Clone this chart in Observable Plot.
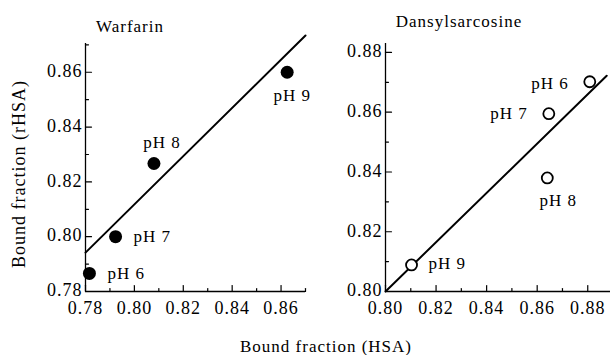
<!DOCTYPE html>
<html>
<head>
<meta charset="utf-8">
<script src="https://cdn.jsdelivr.net/npm/d3@7"></script>
<script src="https://cdn.jsdelivr.net/npm/@observablehq/plot@0.6"></script>
<style>
  html, body { margin: 0; padding: 0; background: white; }
  #chart { position: relative; width: 611px; height: 355px; overflow: hidden; background: white; }
  #chart > svg { position: absolute; top: 0; }
  #chart text { font-family: "Liberation Serif", "Times New Roman", serif; letter-spacing: 1px; }
</style>
</head>
<body>
<div id="chart"></div>
<script>
// ---- data ----
const phLabels = ["pH 6", "pH 7", "pH 8", "pH 9"];

// Warfarin panel
const warfarinHSA  = [0.7816, 0.7923, 0.8080, 0.8625];
const warfarinRHSA = [0.7866, 0.8000, 0.8267, 0.8600];
const warfarinFitX = [0.780, 0.870];
const warfarinFitY = [0.7942, 0.8734];
const warfarinXTicks = [0.78, 0.80, 0.82, 0.84, 0.86];
const warfarinXMinor = [0.79, 0.81, 0.83, 0.85, 0.87];
const warfarinYTicks = [0.78, 0.80, 0.82, 0.84, 0.86];
const warfarinYMinor = [0.79, 0.81, 0.83, 0.85, 0.87];

// Dansylsarcosine panel
const dansylHSA  = [0.8808, 0.8646, 0.8640, 0.8103];
const dansylRHSA = [0.8702, 0.8595, 0.8380, 0.8089];
const dansylFitX = [0.800, 0.8875];
const dansylFitY = [0.800, 0.8722];
const dansylXTicks = [0.80, 0.82, 0.84, 0.86, 0.88];
const dansylXMinor = [0.81, 0.83, 0.85, 0.87];
const dansylYTicks = [0.80, 0.82, 0.84, 0.86, 0.88];
const dansylYMinor = [0.81, 0.83, 0.85, 0.87];

const titles = ["Warfarin", "Dansylsarcosine"];
const xLabel = "Bound fraction (HSA)";
const yLabel = "Bound fraction (rHSA)";

// ---- styling (label placement offsets, in pixels) ----
const warfarinLabelPos = [
  {dx: 18, dy: 0, anchor: "start"},
  {dx: 18, dy: 0, anchor: "start"},
  {dx: 8, dy: -21, anchor: "middle"},
  {dx: 5, dy: 23, anchor: "middle"}
];
const dansylLabelPos = [
  {dx: -21, dy: 2, anchor: "end"},
  {dx: -21, dy: 0, anchor: "end"},
  {dx: 11, dy: 23, anchor: "middle"},
  {dx: 17, dy: -1, anchor: "start"}
];

const tickShape = {draw(ctx, l) { ctx.moveTo(0, 0); ctx.lineTo(0, -l); }};
const fmt = d3.format(".2f");

function panel({xs, ys, fitX, fitY, xDom, yDom, xTicks, xMinor, yTicks, yMinor, labelPos, filled, width, marginLeft}) {
  const idx = d3.range(xs.length);
  const fit = fitX.map((x, i) => ({x, y: fitY[i]}));
  return Plot.plot({
    width, height: 355,
    marginLeft, marginRight: 1, marginTop: 43, marginBottom: 64,
    x: {domain: xDom},
    y: {domain: yDom},
    style: {fontFamily: "Liberation Serif", fontSize: "17px", color: "black", background: "none", overflow: "visible"},
    marks: [
      Plot.ruleY([yDom[0]], {stroke: "black", strokeWidth: 1.3}),
      Plot.ruleX([xDom[0]], {stroke: "black", strokeWidth: 1.3}),
      Plot.vector(xTicks, {x: d => d, y: () => yDom[0], rotate: 0, length: 6, anchor: "start", shape: tickShape, stroke: "black", strokeWidth: 1.2}),
      Plot.vector(xMinor, {x: d => d, y: () => yDom[0], rotate: 0, length: 3, anchor: "start", shape: tickShape, stroke: "black", strokeWidth: 1.2}),
      Plot.vector(yTicks, {x: () => xDom[0], y: d => d, rotate: 90, length: 6, anchor: "start", shape: tickShape, stroke: "black", strokeWidth: 1.2}),
      Plot.vector(yMinor, {x: () => xDom[0], y: d => d, rotate: 90, length: 3, anchor: "start", shape: tickShape, stroke: "black", strokeWidth: 1.2}),
      Plot.axisX({ticks: xTicks, tickSize: 0, tickPadding: 10, tickFormat: fmt, label: null, fontSize: 18}),
      Plot.axisY({ticks: yTicks, tickSize: 0, tickPadding: 3, dy: -1, tickFormat: fmt, label: null, fontSize: 18}),
      Plot.line(fit, {x: "x", y: "y", stroke: "black", strokeWidth: 2, clip: false}),
      Plot.dot(idx, filled
        ? {x: i => xs[i], y: i => ys[i], r: 6.5, fill: "black", stroke: "none"}
        : {x: i => xs[i], y: i => ys[i], r: 5.5, fill: "white", stroke: "black", strokeWidth: 1.8}),
      ...idx.map(i => Plot.text([i], {
        x: d => xs[d], y: d => ys[d], text: d => phLabels[d],
        dx: labelPos[i].dx, dy: labelPos[i].dy, textAnchor: labelPos[i].anchor,
        fontSize: 17, fill: "black"
      }))
    ]
  });
}

const chart = document.getElementById("chart");

const left = panel({
  xs: warfarinHSA, ys: warfarinRHSA, fitX: warfarinFitX, fitY: warfarinFitY,
  xDom: [0.78, 0.87], yDom: [0.78, 0.8705],
  xTicks: warfarinXTicks, xMinor: warfarinXMinor, yTicks: warfarinYTicks, yMinor: warfarinYMinor,
  labelPos: warfarinLabelPos, filled: true, width: 306, marginLeft: 85
});
left.style.left = "0px";
chart.appendChild(left);

const right = panel({
  xs: dansylHSA, ys: dansylRHSA, fitX: dansylFitX, fitY: dansylFitY,
  xDom: [0.80, 0.889], yDom: [0.80, 0.883],
  xTicks: dansylXTicks, xMinor: dansylXMinor, yTicks: dansylYTicks, yMinor: dansylYMinor,
  labelPos: dansylLabelPos, filled: false, width: 305, marginLeft: 79
});
right.style.left = "306px";
chart.appendChild(right);

// overlay for titles and shared axis labels
const overlay = d3.select(chart).append("svg")
  .attr("width", 611).attr("height", 355)
  .style("left", "0px").style("pointer-events", "none")
  .style("font-family", "Liberation Serif").style("font-size", "17px");
overlay.append("text").attr("x", 130).attr("y", 32).attr("text-anchor", "middle").text(titles[0]);
overlay.append("text").attr("x", 459).attr("y", 27).attr("text-anchor", "middle").text(titles[1]);
overlay.append("text").attr("x", 326).attr("y", 352).attr("text-anchor", "middle").text(xLabel);
overlay.append("text").attr("transform", "translate(25,174) rotate(-90)").attr("text-anchor", "middle")
  .style("font-size", "18px").text(yLabel);
</script>
</body>
</html>
